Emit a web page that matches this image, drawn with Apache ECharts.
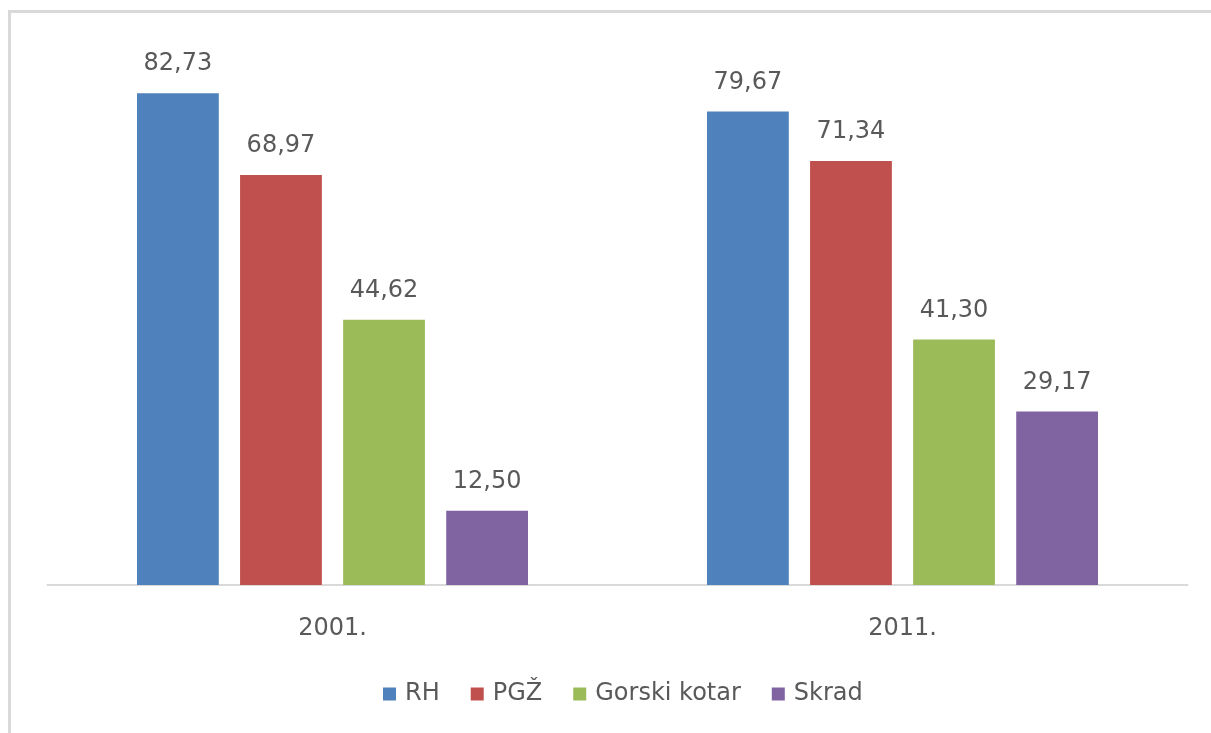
<!DOCTYPE html>
<html>
<head>
<meta charset="utf-8">
<script src="https://cdn.jsdelivr.net/npm/echarts@6/dist/echarts.min.js"></script>
<style>
  html, body { margin: 0; padding: 0; background: #fff; }
  #chart { width: 1211px; height: 733px; }
</style>
</head>
<body>
<div id="chart"></div>
<script>
var years = ['2001.', '2011.'];
var seriesNames = ['RH', 'PGŽ', 'Gorski kotar', 'Skrad'];
var rhValues = [82.73, 79.67];
var pgzValues = [68.97, 71.34];
var gorskiValues = [44.62, 41.30];
var skradValues = [12.50, 29.17];

var colors = ['#4F81BD', '#C0504D', '#9BBB59', '#8064A2'];
var allValues = [rhValues, pgzValues, gorskiValues, skradValues];
var fontName = 'DejaVu Sans';

var series = seriesNames.map(function (name, i) {
  return {
    name: name,
    type: 'bar',
    data: allValues[i],
    barGap: '26%',
    barCategoryGap: '31.4%',
    itemStyle: { color: colors[i] },
    label: {
      show: true,
      position: 'top',
      distance: 17,
      color: '#595959',
      fontFamily: fontName,
      fontSize: 24,
      formatter: function (p) { return p.value.toFixed(2).replace('.', ','); }
    }
  };
});

var chart = echarts.init(document.getElementById('chart'));
chart.setOption({
  animation: false,
  color: colors,
  graphic: [{
    type: 'rect',
    shape: { x: 9.5, y: 11.5, width: 1400, height: 1000 },
    style: { fill: null, stroke: '#d9d9d9', lineWidth: 3 },
    silent: true
  }],
  legend: {
    bottom: 27,
    left: 383,
    padding: 0,
    itemWidth: 13,
    itemHeight: 13,
    itemGap: 31,
    icon: 'rect',
    textStyle: { color: '#595959', fontFamily: fontName, fontSize: 24, padding: [0, 0, 0, 4] },
    data: seriesNames
  },
  grid: { left: 47.5, right: 23.5, top: 50, bottom: 148 },
  xAxis: {
    type: 'category',
    data: years,
    axisLine: { lineStyle: { color: '#d9d9d9', width: 2 } },
    axisTick: { show: false },
    axisLabel: { color: '#595959', fontFamily: fontName, fontSize: 24, margin: 32 }
  },
  yAxis: {
    type: 'value',
    min: 0,
    max: 90,
    show: false,
    splitLine: { show: false }
  },
  series: series
});
</script>
</body>
</html>
